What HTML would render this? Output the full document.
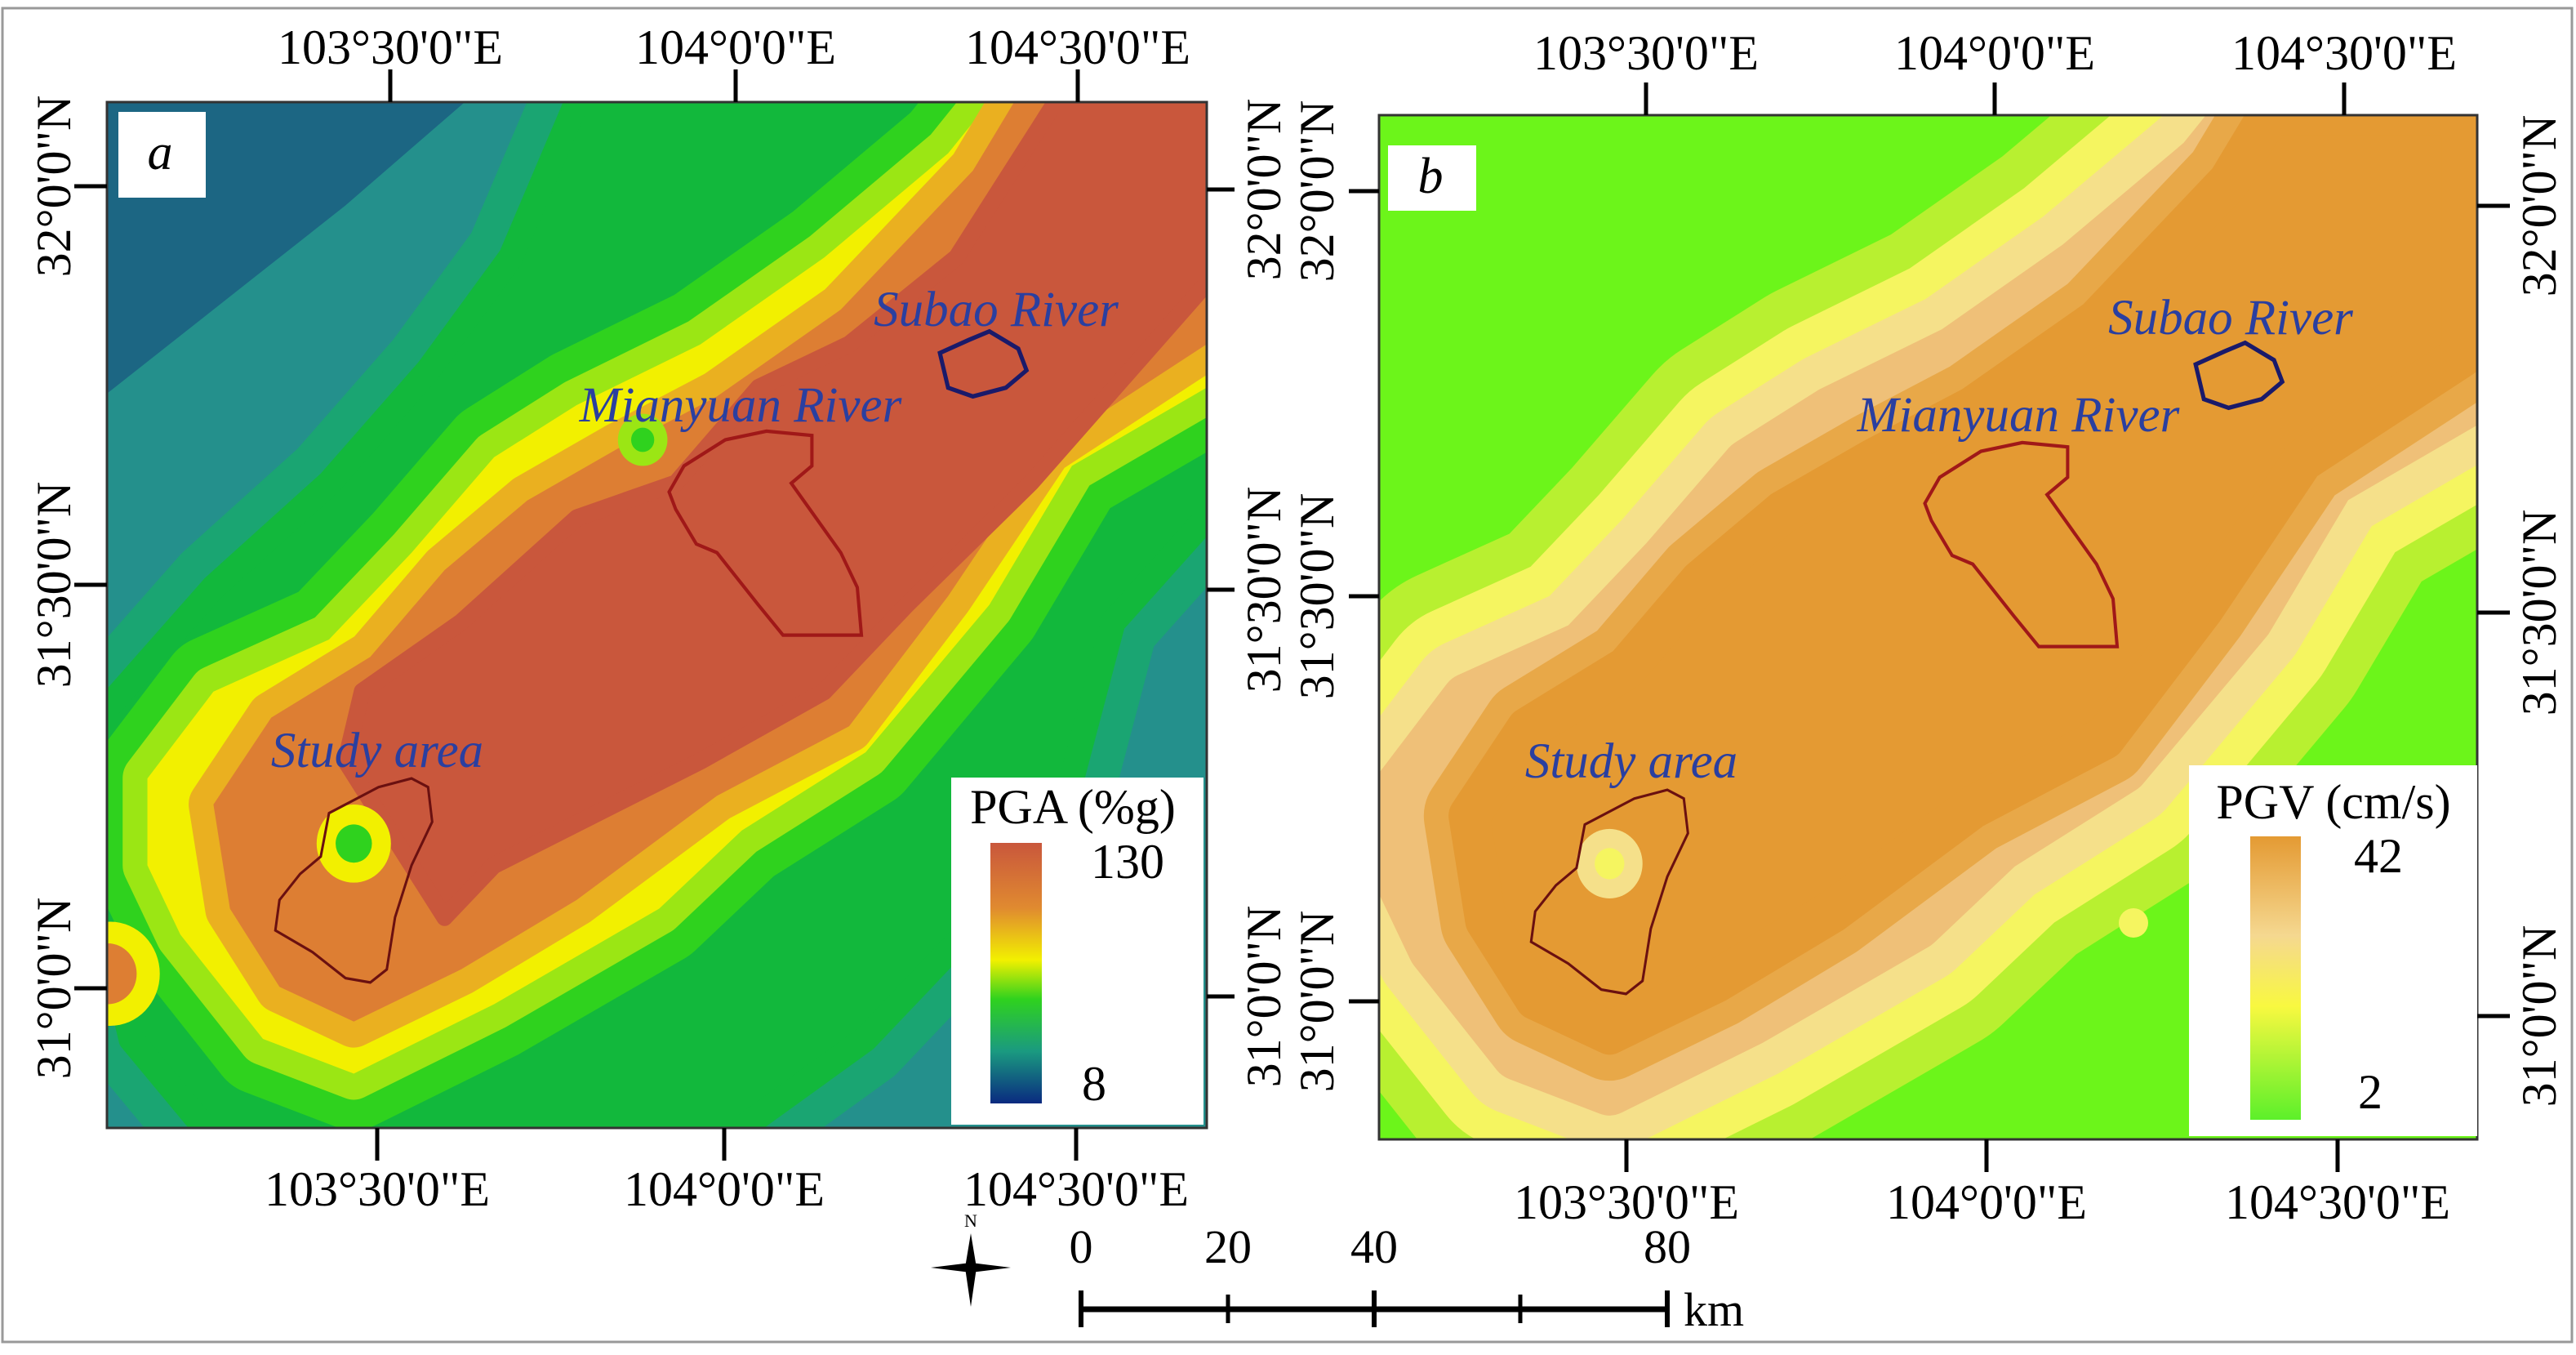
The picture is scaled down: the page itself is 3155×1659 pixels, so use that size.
<!DOCTYPE html>
<html><head><meta charset="utf-8">
<style>
html,body{margin:0;padding:0;background:#fff}
svg{display:block}
text{font-family:"Liberation Serif",serif}
</style></head>
<body>
<svg width="3155" height="1659" viewBox="0 0 3155 1659" xmlns="http://www.w3.org/2000/svg">
<defs>
 <clipPath id="ca"><rect x="131" y="125" width="1347" height="1256"/></clipPath>
 <clipPath id="cb"><rect x="1689" y="141" width="1345" height="1254"/></clipPath>
 <polygon id="pg" points="110,1000 130,820 260,680 400,560 520,430 620,300 700,121 1463,121 1463,600 1350,720 1300,900 1200,1050 1050,1200 900,1303 250,1303 160,1200"/>
 <polygon id="py" points="180,900 260,800 400,740 500,640 600,530 700,470 850,400 1000,300 1150,180 1200,121 1463,121 1463,450 1300,540 1200,700 1050,870 900,960 800,1050 600,1160 430,1240 320,1200 220,1080 180,1000"/>
 <polygon id="po" points="260,930 330,830 450,760 540,660 640,580 750,520 870,460 1020,360 1180,200 1230,121 1463,121 1463,400 1270,520 1150,690 1030,840 870,920 700,1040 560,1120 430,1180 340,1140 280,1050"/>
 <polygon id="pr" points="420,880 440,800 560,720 700,600 820,560 920,450 1030,400 1160,300 1280,121 1463,121 1463,330 1250,560 1100,700 1000,800 850,880 600,1000 540,1060"/>
 <linearGradient id="ga" x1="0" y1="0" x2="0" y2="1">
  <stop offset="0" stop-color="#c9573c"/><stop offset="0.25" stop-color="#e08a30"/>
  <stop offset="0.45" stop-color="#f2f000"/><stop offset="0.6" stop-color="#2fd21e"/>
  <stop offset="0.8" stop-color="#1a9a80"/><stop offset="1" stop-color="#0a2a80"/>
 </linearGradient>
 <linearGradient id="gb" x1="0" y1="0" x2="0" y2="1">
  <stop offset="0" stop-color="#e49a33"/><stop offset="0.35" stop-color="#f5d890"/>
  <stop offset="0.6" stop-color="#f8f840"/><stop offset="1" stop-color="#5cf02a"/>
 </linearGradient>
</defs>
<rect x="3" y="10" width="3147" height="1633" fill="none" stroke="#999" stroke-width="3"/>

<!-- MAP A -->
<g clip-path="url(#ca)">
 <g transform="translate(131,125) scale(1.011,1.063) translate(-131,-121)">
 <rect x="100" y="100" width="1400" height="1250" fill="#24908c"/>
 <polygon points="100,100 590,100 420,240 300,330 100,480" fill="#1c6683"/>
 <g stroke-linejoin="round">
  <use href="#pg" fill="#1aa572" stroke="#1aa572" stroke-width="110"/>
  <use href="#pg" fill="#12b83c" stroke="#12b83c" stroke-width="30"/>
  <use href="#py" fill="#2fd21e" stroke="#2fd21e" stroke-width="130"/>
  <use href="#py" fill="#9be614" stroke="#9be614" stroke-width="60"/>
  <use href="#py" fill="#f2f000"/>
  <use href="#po" fill="#eab020" stroke="#eab020" stroke-width="60"/>
  <use href="#po" fill="#dd7e33"/>
  <use href="#pr" fill="#c9573c" stroke="#c9573c" stroke-width="20"/>
 </g>
 <circle cx="430" cy="975" r="45" fill="#f2f000"/><circle cx="430" cy="975" r="22" fill="#2fd21e"/>
 <circle cx="780" cy="510" r="30" fill="#9be614"/><circle cx="780" cy="510" r="14" fill="#2fd21e"/>
 <circle cx="135" cy="1125" r="60" fill="#f2f000"/><circle cx="132" cy="1125" r="35" fill="#dd7e33"/>
 <polygon points="812,570 830,540 880,510 930,500 985,505 985,540 960,560 990,600 1020,640 1040,680 1045,735 950,735 920,700 870,640 845,630 820,590" fill="none" stroke="#a01818" stroke-width="4"/>
 <polygon points="1140,410 1175,395 1200,385 1235,405 1245,430 1220,450 1180,460 1150,450" fill="none" stroke="#1a1a6a" stroke-width="5"/>
 <polygon points="400,940 460,910 500,900 520,910 525,950 500,1000 480,1060 470,1120 450,1135 420,1130 380,1100 335,1075 340,1040 365,1010 390,990" fill="none" stroke="#6a1010" stroke-width="3"/>
 </g>
 <g font-style="italic" font-size="61" fill="#2a3fa0">
  <text x="1220" y="399" text-anchor="middle">Subao River</text>
  <text x="907" y="516" text-anchor="middle">Mianyuan River</text>
  <text x="462" y="939" text-anchor="middle">Study area</text>
 </g>
</g>
<rect x="131" y="125" width="1347" height="1256" fill="none" stroke="#333" stroke-width="3"/>
<rect x="145" y="137" width="107" height="105" fill="#fff"/>
<text x="196" y="207" font-size="62" font-style="italic" text-anchor="middle">a</text>
<g>
 <rect x="1165" y="952" width="309" height="425" fill="#fff"/>
 <text x="1314" y="1008" font-size="60" text-anchor="middle">PGA (%g)</text>
 <rect x="1213" y="1032" width="63" height="319" fill="url(#ga)"/>
 <text x="1381" y="1075" font-size="60" text-anchor="middle">130</text>
 <text x="1340" y="1347" font-size="60" text-anchor="middle">8</text>
</g>
<g stroke="#000" stroke-width="5">
 <line x1="478" y1="85" x2="478" y2="125"/><line x1="901" y1="85" x2="901" y2="125"/><line x1="1320" y1="85" x2="1320" y2="125"/>
 <line x1="462" y1="1381" x2="462" y2="1421"/><line x1="887" y1="1381" x2="887" y2="1421"/><line x1="1318" y1="1381" x2="1318" y2="1421"/>
 <line x1="91" y1="228" x2="131" y2="228"/><line x1="91" y1="716" x2="131" y2="716"/><line x1="91" y1="1210" x2="131" y2="1210"/>
 <line x1="1478" y1="232" x2="1512" y2="232"/><line x1="1478" y1="722" x2="1512" y2="722"/><line x1="1478" y1="1220" x2="1512" y2="1220"/>
</g>
<g font-size="60" text-anchor="middle">
 <text x="478" y="78">103°30'0"E</text><text x="901" y="78">104°0'0"E</text><text x="1320" y="78">104°30'0"E</text>
 <text x="462" y="1476">103°30'0"E</text><text x="887" y="1476">104°0'0"E</text><text x="1318" y="1476">104°30'0"E</text>
 <text transform="translate(86,228) rotate(-90)">32°0'0"N</text>
 <text transform="translate(86,716) rotate(-90)">31°30'0"N</text>
 <text transform="translate(86,1210) rotate(-90)">31°0'0"N</text>
 <text transform="translate(1568,232) rotate(-90)">32°0'0"N</text>
 <text transform="translate(1568,722) rotate(-90)">31°30'0"N</text>
 <text transform="translate(1568,1220) rotate(-90)">31°0'0"N</text>
</g>

<!-- MAP B -->
<g clip-path="url(#cb)">
 <rect x="1689" y="141" width="1345" height="1254" fill="#6cf51a"/>
 <g transform="translate(1538,14)">
 <g transform="translate(131,125) scale(1.011,1.063) translate(-131,-121)">
  <g stroke-linejoin="round">
   <use href="#py" fill="#b8f030" stroke="#b8f030" stroke-width="320"/>
   <use href="#py" fill="#f5f560" stroke="#f5f560" stroke-width="230"/>
   <use href="#py" fill="#f5e08a" stroke="#f5e08a" stroke-width="150"/>
   <use href="#py" fill="#efc078" stroke="#efc078" stroke-width="70"/>
   <use href="#po" fill="#e8a848" stroke="#e8a848" stroke-width="110"/>
   <use href="#po" fill="#e49a33" stroke="#e49a33" stroke-width="50"/>
  </g>
  <circle cx="430" cy="985" r="40" fill="#f5e08a"/><circle cx="430" cy="985" r="18" fill="#f5f560"/>
  <polygon points="812,570 830,540 880,510 930,500 985,505 985,540 960,560 990,600 1020,640 1040,680 1045,735 950,735 920,700 870,640 845,630 820,590" fill="none" stroke="#a01818" stroke-width="4"/>
  <polygon points="1140,410 1175,395 1200,385 1235,405 1245,430 1220,450 1180,460 1150,450" fill="none" stroke="#1a1a6a" stroke-width="5"/>
  <polygon points="400,940 460,910 500,900 520,910 525,950 500,1000 480,1060 470,1120 450,1135 420,1130 380,1100 335,1075 340,1040 365,1010 390,990" fill="none" stroke="#6a1010" stroke-width="3"/>
 </g>
 </g>
 <circle cx="2613" cy="1130" r="18" fill="#f5f560"/>
 <g font-style="italic" font-size="61" fill="#2a3fa0">
  <text x="2732" y="409" text-anchor="middle">Subao River</text>
  <text x="2472" y="528" text-anchor="middle">Mianyuan River</text>
  <text x="1998" y="952" text-anchor="middle">Study area</text>
 </g>
</g>
<rect x="1689" y="141" width="1345" height="1254" fill="none" stroke="#333" stroke-width="3"/>
<rect x="1700" y="178" width="108" height="80" fill="#fff"/>
<text x="1752" y="236" font-size="62" font-style="italic" text-anchor="middle">b</text>
<g>
 <rect x="2681" y="937" width="353" height="454" fill="#fff"/>
 <text x="2858" y="1002" font-size="60" text-anchor="middle">PGV (cm/s)</text>
 <rect x="2756" y="1024" width="62" height="347" fill="url(#gb)"/>
 <text x="2913" y="1068" font-size="60" text-anchor="middle">42</text>
 <text x="2903" y="1357" font-size="60" text-anchor="middle">2</text>
</g>
<g stroke="#000" stroke-width="5">
 <line x1="2016" y1="101" x2="2016" y2="141"/><line x1="2443" y1="101" x2="2443" y2="141"/><line x1="2871" y1="101" x2="2871" y2="141"/>
 <line x1="1992" y1="1395" x2="1992" y2="1435"/><line x1="2433" y1="1395" x2="2433" y2="1435"/><line x1="2863" y1="1395" x2="2863" y2="1435"/>
 <line x1="1652" y1="234" x2="1689" y2="234"/><line x1="1652" y1="730" x2="1689" y2="730"/><line x1="1652" y1="1226" x2="1689" y2="1226"/>
 <line x1="3034" y1="252" x2="3074" y2="252"/><line x1="3034" y1="750" x2="3074" y2="750"/><line x1="3034" y1="1244" x2="3074" y2="1244"/>
</g>
<g font-size="60" text-anchor="middle">
 <text x="2016" y="85">103°30'0"E</text><text x="2443" y="85">104°0'0"E</text><text x="2871" y="85">104°30'0"E</text>
 <text x="1992" y="1492">103°30'0"E</text><text x="2433" y="1492">104°0'0"E</text><text x="2863" y="1492">104°30'0"E</text>
 <text transform="translate(1633,234) rotate(-90)">32°0'0"N</text>
 <text transform="translate(1633,730) rotate(-90)">31°30'0"N</text>
 <text transform="translate(1633,1226) rotate(-90)">31°0'0"N</text>
 <text transform="translate(3130,252) rotate(-90)">32°0'0"N</text>
 <text transform="translate(3130,750) rotate(-90)">31°30'0"N</text>
 <text transform="translate(3130,1244) rotate(-90)">31°0'0"N</text>
</g>

<!-- compass + scale bar -->
<g>
 <text x="1189" y="1502" font-size="22" text-anchor="middle">N</text>
 <polygon points="1189,1510 1196,1552 1189,1600 1182,1552" fill="#000"/>
 <polygon points="1140,1552 1189,1546 1238,1552 1189,1558" fill="#000"/>
</g>
<g stroke="#000">
 <line x1="1324" y1="1603" x2="2042" y2="1603" stroke-width="7"/>
 <line x1="1324" y1="1580" x2="1324" y2="1625" stroke-width="6"/>
 <line x1="1504" y1="1585" x2="1504" y2="1620" stroke-width="5"/>
 <line x1="1683" y1="1580" x2="1683" y2="1625" stroke-width="6"/>
 <line x1="1862" y1="1585" x2="1862" y2="1620" stroke-width="5"/>
 <line x1="2042" y1="1580" x2="2042" y2="1625" stroke-width="6"/>
</g>
<g font-size="58" text-anchor="middle">
 <text x="1324" y="1546">0</text><text x="1504" y="1546">20</text><text x="1683" y="1546">40</text><text x="2042" y="1546">80</text>
 <text x="2062" y="1623" text-anchor="start">km</text>
</g>
</svg>
</body></html>
